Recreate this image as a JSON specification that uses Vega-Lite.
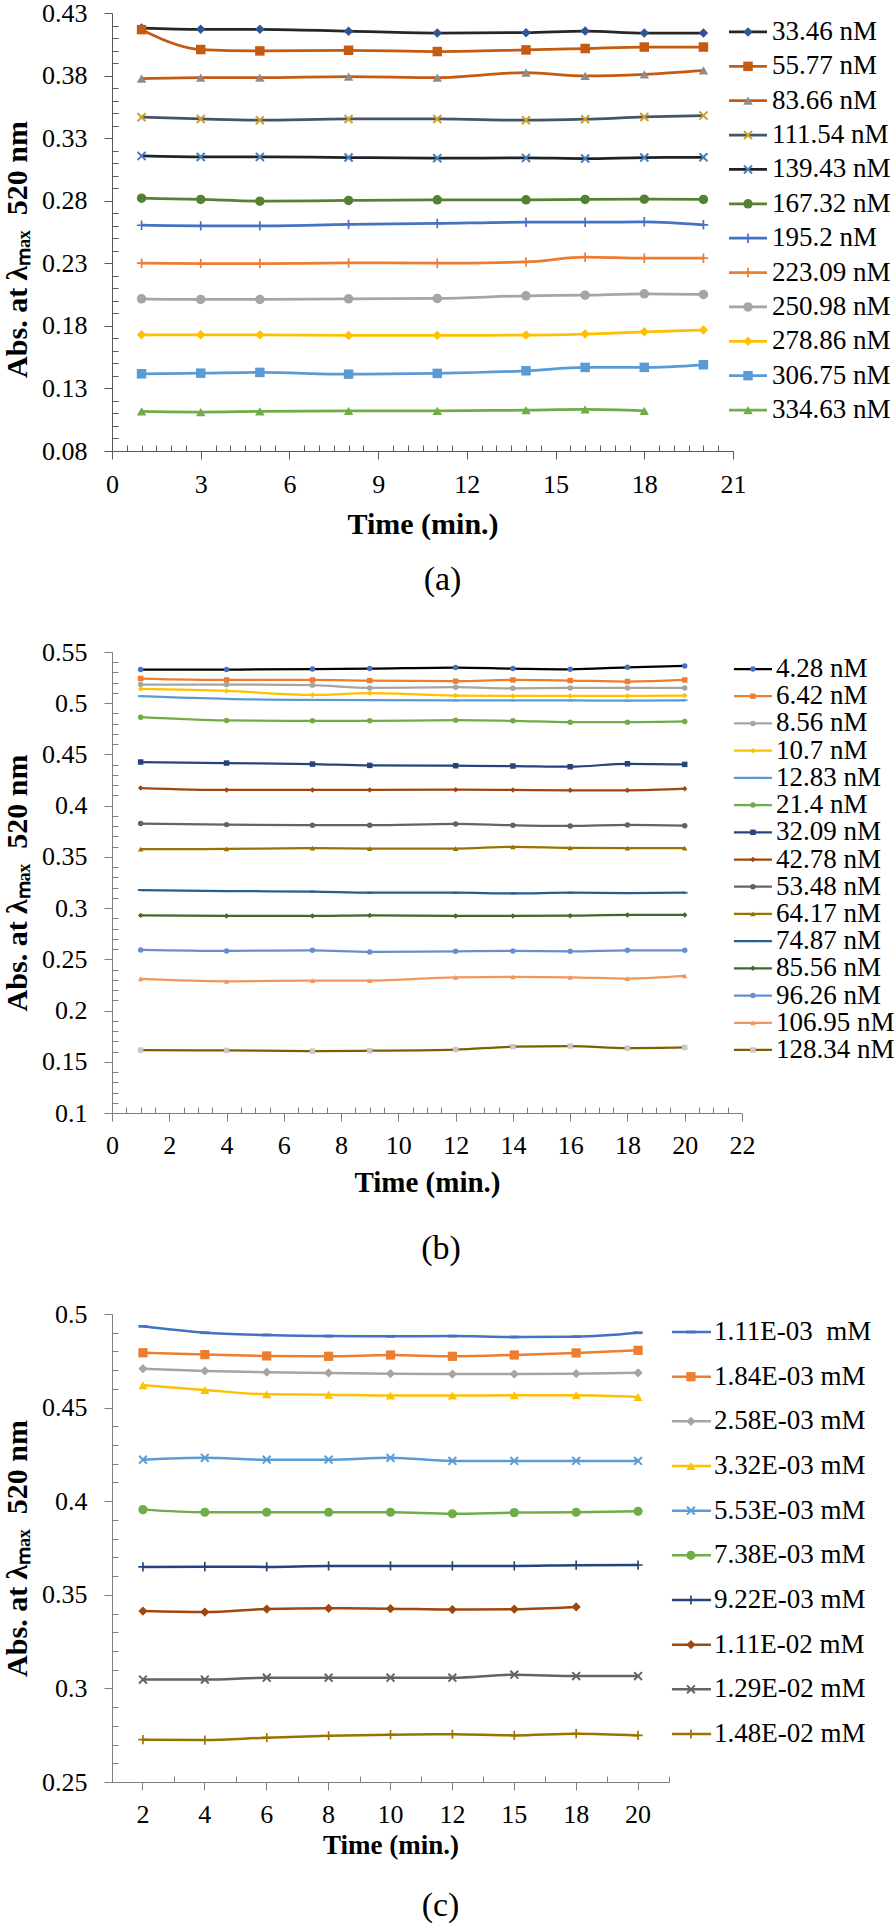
{
"$schema": "https://vega.github.io/schema/vega-lite/v6.json",
"background": "white",
"padding": {"left": 2, "top": 0, "right": 0, "bottom": 0},
"columns": 2,
"align": "each",
"bounds": "flush",
"spacing": {"row": 201, "column": 0},
"resolve": {"scale": {"stroke": "independent", "fill": "independent", "shape": "independent"}},
"config": {
  "view": {"stroke": null},
  "font": "Liberation Serif, Times New Roman, serif",
  "axis": {"labelFont": "Liberation Serif, Times New Roman, serif", "titleFont": "Liberation Serif, Times New Roman, serif", "labelColor": "black", "titleColor": "black", "grid": false, "domainColor": "#7f7f7f", "tickColor": "#7f7f7f", "labelFontSize": 26, "titleFontWeight": "bold", "labelOverlap": false},
  "title": {"font": "Liberation Serif, Times New Roman, serif", "fontWeight": "normal", "color": "black"}
},
"datasets": {
  "a": [
    {"s":"33.46 nM","t":[1,3,5,8,11,14,16,18,20],"v":[0.418,0.417,0.417,0.4155,0.414,0.4143,0.4156,0.414,0.414]},
    {"s":"55.77 nM","t":[1,3,5,8,11,14,16,18,20],"v":[0.4167,0.4008,0.3997,0.4002,0.3992,0.4005,0.4016,0.4028,0.4028]},
    {"s":"83.66 nM","t":[1,3,5,8,11,14,16,18,20],"v":[0.3776,0.3784,0.3784,0.3792,0.3784,0.3824,0.3797,0.381,0.3842]},
    {"s":"111.54 nM","t":[1,3,5,8,11,14,16,18,20],"v":[0.3467,0.3453,0.3443,0.3453,0.3453,0.3443,0.3451,0.3469,0.348]},
    {"s":"139.43 nM","t":[1,3,5,8,11,14,16,18,20],"v":[0.3158,0.315,0.315,0.3145,0.314,0.3142,0.3137,0.3145,0.3147]},
    {"s":"167.32 nM","t":[1,3,5,8,11,14,16,18,20],"v":[0.282,0.281,0.2796,0.2802,0.2807,0.2807,0.281,0.2812,0.281]},
    {"s":"195.2 nM","t":[1,3,5,8,11,14,16,18,20],"v":[0.2604,0.2599,0.2599,0.261,0.2618,0.2628,0.2628,0.2631,0.2607]},
    {"s":"223.09 nM","t":[1,3,5,8,11,14,16,18,20],"v":[0.2301,0.2298,0.2298,0.2303,0.2301,0.2311,0.2349,0.2341,0.2341]},
    {"s":"250.98 nM","t":[1,3,5,8,11,14,16,18,20],"v":[0.2016,0.2011,0.2011,0.2016,0.2019,0.204,0.2045,0.2056,0.2051]},
    {"s":"278.86 nM","t":[1,3,5,8,11,14,16,18,20],"v":[0.1728,0.1728,0.1728,0.1723,0.1724,0.1726,0.1734,0.1752,0.1766]},
    {"s":"306.75 nM","t":[1,3,5,8,11,14,16,18,20],"v":[0.1417,0.1422,0.1428,0.1414,0.142,0.1441,0.1468,0.1468,0.1489]},
    {"s":"334.63 nM","t":[1,3,5,8,11,14,16,18],"v":[0.1116,0.1111,0.1116,0.1121,0.1121,0.1127,0.1132,0.1121]}
  ],
  "b": [
    {"s":"4.28 nM","t":[1,4,7,9,12,14,16,18,20],"v":[0.5329,0.5329,0.5334,0.5338,0.5348,0.5338,0.5331,0.5351,0.5364]},
    {"s":"6.42 nM","t":[1,4,7,9,12,14,16,18,20],"v":[0.5241,0.5227,0.5227,0.5221,0.5215,0.5227,0.5221,0.5212,0.5227]},
    {"s":"8.56 nM","t":[1,4,7,9,12,14,16,18,20],"v":[0.5182,0.5182,0.5176,0.5149,0.5156,0.5146,0.5149,0.5149,0.5149]},
    {"s":"10.7 nM","t":[1,4,7,9,12,14,16,18,20],"v":[0.514,0.512,0.5081,0.5098,0.5075,0.5071,0.5071,0.5071,0.5075]},
    {"s":"12.83 nM","t":[1,4,7,9,12,14,16,18,20],"v":[0.5069,0.5042,0.5032,0.503,0.5027,0.5027,0.5027,0.5025,0.5029]},
    {"s":"21.4 nM","t":[1,4,7,9,12,14,16,18,20],"v":[0.4864,0.4832,0.4828,0.4828,0.4835,0.4828,0.4815,0.4815,0.4822]},
    {"s":"32.09 nM","t":[1,4,7,9,12,14,16,18,20],"v":[0.4426,0.4416,0.4406,0.4393,0.439,0.4387,0.438,0.4409,0.4403]},
    {"s":"42.78 nM","t":[1,4,7,9,12,14,16,18,20],"v":[0.4172,0.4153,0.4153,0.4153,0.4156,0.4153,0.415,0.415,0.4166]},
    {"s":"53.48 nM","t":[1,4,7,9,12,14,16,18,20],"v":[0.3825,0.3815,0.3809,0.3809,0.3822,0.3809,0.3802,0.3812,0.3805]},
    {"s":"64.17 nM","t":[1,4,7,9,12,14,16,18,20],"v":[0.3575,0.3578,0.3585,0.3581,0.3581,0.3598,0.3588,0.3585,0.3585]},
    {"s":"74.87 nM","t":[1,4,7,9,12,14,16,18,20],"v":[0.3176,0.3166,0.3162,0.315,0.315,0.3143,0.315,0.3147,0.315]},
    {"s":"85.56 nM","t":[1,4,7,9,12,14,16,18,20],"v":[0.2929,0.2923,0.2923,0.2929,0.2923,0.2923,0.2926,0.2933,0.2933]},
    {"s":"96.26 nM","t":[1,4,7,9,12,14,16,18,20],"v":[0.2592,0.2582,0.2588,0.2572,0.2578,0.2582,0.2578,0.2588,0.2588]},
    {"s":"106.95 nM","t":[1,4,7,9,12,14,16,18,20],"v":[0.2309,0.2286,0.2293,0.2293,0.2325,0.2328,0.2325,0.2312,0.2338]},
    {"s":"128.34 nM","t":[1,4,7,9,12,14,16,18,20],"v":[0.1614,0.1611,0.1604,0.1608,0.1619,0.1647,0.1653,0.1633,0.164]}
  ],
  "c": [
    {"s":"1.11E-03\u00a0 mM","t":[2,4,6,8,10,12,15,18,20],"v":[0.4934,0.49,0.4888,0.4882,0.4881,0.4882,0.4877,0.4879,0.49]},
    {"s":"1.84E-03 mM","t":[2,4,6,8,10,12,15,18,20],"v":[0.4793,0.4783,0.4776,0.4774,0.4781,0.4774,0.4781,0.4792,0.4806]},
    {"s":"2.58E-03 mM","t":[2,4,6,8,10,12,15,18,20],"v":[0.4708,0.4696,0.4689,0.4685,0.4681,0.4679,0.4679,0.4681,0.4686]},
    {"s":"3.32E-03 mM","t":[2,4,6,8,10,12,15,18,20],"v":[0.4619,0.4594,0.4571,0.4569,0.4564,0.4564,0.4566,0.4566,0.4557]},
    {"s":"5.53E-03 mM","t":[2,4,6,8,10,12,15,18,20],"v":[0.4222,0.4232,0.4222,0.4222,0.4232,0.4215,0.4215,0.4215,0.4215]},
    {"s":"7.38E-03 mM","t":[2,4,6,8,10,12,15,18,20],"v":[0.3955,0.3941,0.3941,0.3941,0.3941,0.3933,0.3939,0.3941,0.3946]},
    {"s":"9.22E-03 mM","t":[2,4,6,8,10,12,15,18,20],"v":[0.3649,0.365,0.3649,0.3654,0.3654,0.3654,0.3654,0.3658,0.3659]},
    {"s":"1.11E-02 mM","t":[2,4,6,8,10,12,15,18],"v":[0.3413,0.3408,0.3424,0.3428,0.3426,0.3421,0.3423,0.3435]},
    {"s":"1.29E-02 mM","t":[2,4,6,8,10,12,15,18,20],"v":[0.3047,0.3047,0.3057,0.3057,0.3057,0.3057,0.3073,0.3066,0.3066]},
    {"s":"1.48E-02 mM","t":[2,4,6,8,10,12,15,18,20],"v":[0.2726,0.2724,0.2737,0.2747,0.2753,0.2755,0.2749,0.2758,0.2749]}
  ]
},
"concat": [
  {
    "width": 621, "height": 438,
    "data": {"name": "a"},
    "transform": [{"flatten": ["t", "v"]}],
    "title": {"text": "(a)", "orient": "bottom", "offset": 24, "dx": 20, "fontSize": 34},
    "encoding": {
      "x": {"field": "t", "type": "quantitative", "scale": {"domain": [0, 21], "nice": false, "zero": false},
        "axis": {"title": "Time (min.)", "values": [0,0.5,1,1.5,2,2.5,3,3.5,4,4.5,5,5.5,6,6.5,7,7.5,8,8.5,9,9.5,10,10.5,11,11.5,12,12.5,13,13.5,14,14.5,15,15.5,16,16.5,17,17.5,18,18.5,19,19.5,20,20.5,21],
          "labelExpr": "datum.value % 3 === 0 ? '' + datum.value : ''",
          "tickSize": {"condition": {"test": "datum.value % 3 === 0", "value": 8}, "value": -6},
          "labelPadding": 12, "labelFlush": false, "titleFontSize": 30, "titlePadding": 12, "domainColor": "#595959", "tickColor": "#595959"}},
      "y": {"field": "v", "type": "quantitative", "scale": {"domain": [0.08, 0.43], "nice": false, "zero": false},
        "axis": {"title": "Abs. at λₘₐₓ\u00a0 520 nm", "values": [0.08,0.09,0.1,0.11,0.12,0.13,0.14,0.15,0.16,0.17,0.18,0.19,0.2,0.21,0.22,0.23,0.24,0.25,0.26,0.27,0.28,0.29,0.3,0.31,0.32,0.33,0.34,0.35,0.36,0.37,0.38,0.39,0.4,0.41,0.42,0.43],
          "labelExpr": "round(datum.value*100) % 5 === 3 ? format(datum.value, '.2f') : ''",
          "tickSize": {"condition": {"test": "round(datum.value*100) % 5 === 3", "value": 8}, "value": -6},
          "labelPadding": 17, "titleFontSize": 30, "titlePadding": 9, "titleY": 236, "domainColor": "#595959", "tickColor": "#595959"}}
    },
    "layer": [
      {"mark": {"type": "line", "interpolate": "monotone", "strokeWidth": 2.75},
       "encoding": {"stroke": {"field": "s", "type": "nominal", "legend": null,
         "scale": {"domain": ["33.46 nM","55.77 nM","83.66 nM","111.54 nM","139.43 nM","167.32 nM","195.2 nM","223.09 nM","250.98 nM","278.86 nM","306.75 nM","334.63 nM"],
                   "range": ["#262626","#c55a11","#c55a11","#44546a","#1f2328","#548235","#4472c4","#ed7d31","#a5a5a5","#ffc000","#5b9bd5","#70ad47"]}}}},
      {"mark": {"type": "point", "filled": true, "opacity": 1, "size": 90, "strokeWidth": 0},
       "encoding": {
         "fill": {"field": "s", "type": "nominal", "legend": null,
           "scale": {"domain": ["33.46 nM","55.77 nM","83.66 nM","111.54 nM","139.43 nM","167.32 nM","195.2 nM","223.09 nM","250.98 nM","278.86 nM","306.75 nM","334.63 nM"],
                     "range": ["#2f5597","#c55a11","#8c8c8c","#c9a227","#4a7ebb","#548235","#4472c4","#ed7d31","#a5a5a5","#ffc000","#5b9bd5","#70ad47"]}},
         "shape": {"field": "s", "type": "nominal", "legend": null,
           "scale": {"domain": ["33.46 nM","55.77 nM","83.66 nM","111.54 nM","139.43 nM","167.32 nM","195.2 nM","223.09 nM","250.98 nM","278.86 nM","306.75 nM","334.63 nM"],
                     "range": ["diamond","square","triangle-up","M0,-0.3L0.7,-1L1,-0.7L0.3,0L1,0.7L0.7,1L0,0.3L-0.7,1L-1,0.7L-0.3,0L-1,-0.7L-0.7,-1Z","M0,-0.3L0.7,-1L1,-0.7L0.3,0L1,0.7L0.7,1L0,0.3L-0.7,1L-1,0.7L-0.3,0L-1,-0.7L-0.7,-1Z","circle","M-1,-0.18H1V0.18H-1Z M-0.18,-1H0.18V1H-0.18Z","M-1,-0.18H1V0.18H-1Z M-0.18,-1H0.18V1H-0.18Z","circle","diamond","square","triangle-up"]}}}}
    ]
  },
  {
    "width": 152, "height": 416,
    "data": {"name": "a"},
    "encoding": {"y": {"field": "s", "type": "nominal", "axis": null,
      "scale": {"type": "point", "padding": 0.552, "domain": ["33.46 nM","55.77 nM","83.66 nM","111.54 nM","139.43 nM","167.32 nM","195.2 nM","223.09 nM","250.98 nM","278.86 nM","306.75 nM","334.63 nM"]}}},
    "layer": [
      {"mark": {"type": "rule", "strokeWidth": 2.75},
       "encoding": {"x": {"datum": -0.0855, "type": "quantitative", "scale": {"domain": [0, 1]}, "axis": null}, "x2": {"datum": 0.1645},
         "stroke": {"field": "s", "type": "nominal", "legend": null,
           "scale": {"domain": ["33.46 nM","55.77 nM","83.66 nM","111.54 nM","139.43 nM","167.32 nM","195.2 nM","223.09 nM","250.98 nM","278.86 nM","306.75 nM","334.63 nM"],
                     "range": ["#262626","#c55a11","#c55a11","#44546a","#1f2328","#548235","#4472c4","#ed7d31","#a5a5a5","#ffc000","#5b9bd5","#70ad47"]}}}},
      {"mark": {"type": "point", "filled": true, "opacity": 1, "size": 90, "strokeWidth": 0},
       "encoding": {"x": {"datum": 0.0395, "type": "quantitative"},
         "fill": {"field": "s", "type": "nominal", "legend": null,
           "scale": {"domain": ["33.46 nM","55.77 nM","83.66 nM","111.54 nM","139.43 nM","167.32 nM","195.2 nM","223.09 nM","250.98 nM","278.86 nM","306.75 nM","334.63 nM"],
                     "range": ["#2f5597","#c55a11","#8c8c8c","#c9a227","#4a7ebb","#548235","#4472c4","#ed7d31","#a5a5a5","#ffc000","#5b9bd5","#70ad47"]}},
         "shape": {"field": "s", "type": "nominal", "legend": null,
           "scale": {"domain": ["33.46 nM","55.77 nM","83.66 nM","111.54 nM","139.43 nM","167.32 nM","195.2 nM","223.09 nM","250.98 nM","278.86 nM","306.75 nM","334.63 nM"],
                     "range": ["diamond","square","triangle-up","M0,-0.3L0.7,-1L1,-0.7L0.3,0L1,0.7L0.7,1L0,0.3L-0.7,1L-1,0.7L-0.3,0L-1,-0.7L-0.7,-1Z","M0,-0.3L0.7,-1L1,-0.7L0.3,0L1,0.7L0.7,1L0,0.3L-0.7,1L-1,0.7L-0.3,0L-1,-0.7L-0.7,-1Z","circle","M-1,-0.18H1V0.18H-1Z M-0.18,-1H0.18V1H-0.18Z","M-1,-0.18H1V0.18H-1Z M-0.18,-1H0.18V1H-0.18Z","circle","diamond","square","triangle-up"]}}}},
      {"mark": {"type": "text", "align": "left", "baseline": "middle", "fontSize": 27, "font": "Liberation Serif, Times New Roman, serif", "color": "black"},
       "encoding": {"x": {"datum": 0.197, "type": "quantitative"}, "text": {"field": "s"}}}
    ]
  },
  {
    "width": 630, "height": 461,
    "data": {"name": "b"},
    "transform": [{"flatten": ["t", "v"]}],
    "title": {"text": "(b)", "orient": "bottom", "offset": 35, "dx": 14, "fontSize": 34},
    "encoding": {
      "x": {"field": "t", "type": "quantitative", "scale": {"domain": [0, 22], "nice": false, "zero": false},
        "axis": {"title": "Time (min.)", "values": [0,0.5,1,1.5,2,2.5,3,3.5,4,4.5,5,5.5,6,6.5,7,7.5,8,8.5,9,9.5,10,10.5,11,11.5,12,12.5,13,13.5,14,14.5,15,15.5,16,16.5,17,17.5,18,18.5,19,19.5,20,20.5,21,21.5,22],
          "labelExpr": "datum.value % 2 === 0 ? '' + datum.value : ''",
          "tickSize": {"condition": {"test": "datum.value % 2 === 0", "value": 8}, "value": -6},
          "labelPadding": 11, "labelFlush": false, "titleFontSize": 29, "titlePadding": 10}},
      "y": {"field": "v", "type": "quantitative", "scale": {"domain": [0.1, 0.55], "nice": false, "zero": false},
        "axis": {"title": "Abs. at λₘₐₓ\u00a0 520 nm", "values": [0.1,0.11,0.12,0.13,0.14,0.15,0.16,0.17,0.18,0.19,0.2,0.21,0.22,0.23,0.24,0.25,0.26,0.27,0.28,0.29,0.3,0.31,0.32,0.33,0.34,0.35,0.36,0.37,0.38,0.39,0.4,0.41,0.42,0.43,0.44,0.45,0.46,0.47,0.48,0.49,0.5,0.51,0.52,0.53,0.54,0.55],
          "labelExpr": "round(datum.value*100) % 5 === 0 ? format(datum.value, '.2~f') : ''",
          "tickSize": {"condition": {"test": "round(datum.value*100) % 5 === 0", "value": 8}, "value": -6},
          "labelPadding": 17, "titleFontSize": 30, "titlePadding": 9}}
    },
    "layer": [
      {"mark": {"type": "line", "interpolate": "monotone", "strokeWidth": 2.25},
       "encoding": {"stroke": {"field": "s", "type": "nominal", "legend": null,
         "scale": {"domain": ["4.28 nM","6.42 nM","8.56 nM","10.7 nM","12.83 nM","21.4 nM","32.09 nM","42.78 nM","53.48 nM","64.17 nM","74.87 nM","85.56 nM","96.26 nM","106.95 nM","128.34 nM"],
                   "range": ["#000000","#ed7d31","#a5a5a5","#ffc000","#5b9bd5","#70ad47","#264478","#9e480e","#636363","#997300","#255e91","#43682b","#698ed0","#f1975a","#7f6000"]}}}},
      {"mark": {"type": "point", "filled": true, "opacity": 1, "size": 30, "strokeWidth": 0},
       "encoding": {
         "fill": {"field": "s", "type": "nominal", "legend": null,
           "scale": {"domain": ["4.28 nM","6.42 nM","8.56 nM","10.7 nM","12.83 nM","21.4 nM","32.09 nM","42.78 nM","53.48 nM","64.17 nM","74.87 nM","85.56 nM","96.26 nM","106.95 nM","128.34 nM"],
                     "range": ["#4472c4","#ed7d31","#a5a5a5","#ffc000","#5b9bd5","#70ad47","#264478","#9e480e","#636363","#997300","#255e91","#43682b","#698ed0","#f1975a","#c8c8c8"]}},
         "shape": {"field": "s", "type": "nominal", "legend": null,
           "scale": {"domain": ["4.28 nM","6.42 nM","8.56 nM","10.7 nM","12.83 nM","21.4 nM","32.09 nM","42.78 nM","53.48 nM","64.17 nM","74.87 nM","85.56 nM","96.26 nM","106.95 nM","128.34 nM"],
                     "range": ["circle","square","circle","diamond","M-1,-0.35H1V0.35H-1Z","circle","square","diamond","circle","triangle-up","M-1,-0.35H1V0.35H-1Z","diamond","circle","triangle-up","square"]}}}}
    ]
  },
  {
    "width": 152, "height": 415,
    "data": {"name": "b"},
    "encoding": {"y": {"field": "s", "type": "nominal", "axis": null,
      "scale": {"type": "point", "padding": 0.625, "domain": ["4.28 nM","6.42 nM","8.56 nM","10.7 nM","12.83 nM","21.4 nM","32.09 nM","42.78 nM","53.48 nM","64.17 nM","74.87 nM","85.56 nM","96.26 nM","106.95 nM","128.34 nM"]}}},
    "layer": [
      {"mark": {"type": "rule", "strokeWidth": 2.25},
       "encoding": {"x": {"datum": -0.053, "type": "quantitative", "scale": {"domain": [0, 1]}, "axis": null}, "x2": {"datum": 0.197},
         "stroke": {"field": "s", "type": "nominal", "legend": null,
           "scale": {"domain": ["4.28 nM","6.42 nM","8.56 nM","10.7 nM","12.83 nM","21.4 nM","32.09 nM","42.78 nM","53.48 nM","64.17 nM","74.87 nM","85.56 nM","96.26 nM","106.95 nM","128.34 nM"],
                     "range": ["#000000","#ed7d31","#a5a5a5","#ffc000","#5b9bd5","#70ad47","#264478","#9e480e","#636363","#997300","#255e91","#43682b","#698ed0","#f1975a","#7f6000"]}}}},
      {"mark": {"type": "point", "filled": true, "opacity": 1, "size": 30, "strokeWidth": 0},
       "encoding": {"x": {"datum": 0.072, "type": "quantitative"},
         "fill": {"field": "s", "type": "nominal", "legend": null,
           "scale": {"domain": ["4.28 nM","6.42 nM","8.56 nM","10.7 nM","12.83 nM","21.4 nM","32.09 nM","42.78 nM","53.48 nM","64.17 nM","74.87 nM","85.56 nM","96.26 nM","106.95 nM","128.34 nM"],
                     "range": ["#4472c4","#ed7d31","#a5a5a5","#ffc000","#5b9bd5","#70ad47","#264478","#9e480e","#636363","#997300","#255e91","#43682b","#698ed0","#f1975a","#c8c8c8"]}},
         "shape": {"field": "s", "type": "nominal", "legend": null,
           "scale": {"domain": ["4.28 nM","6.42 nM","8.56 nM","10.7 nM","12.83 nM","21.4 nM","32.09 nM","42.78 nM","53.48 nM","64.17 nM","74.87 nM","85.56 nM","96.26 nM","106.95 nM","128.34 nM"],
                     "range": ["circle","square","circle","diamond","M-1,-0.35H1V0.35H-1Z","circle","square","diamond","circle","triangle-up","M-1,-0.35H1V0.35H-1Z","diamond","circle","triangle-up","square"]}}}},
      {"mark": {"type": "text", "align": "left", "baseline": "middle", "fontSize": 27, "font": "Liberation Serif, Times New Roman, serif", "color": "black"},
       "encoding": {"x": {"datum": 0.224, "type": "quantitative"}, "text": {"field": "s"}}}
    ]
  },
  {
    "width": 557, "height": 468,
    "data": {"name": "c"},
    "transform": [{"flatten": ["t", "v"]}],
    "title": {"text": "(c)", "orient": "bottom", "offset": 31, "dx": 50, "fontSize": 34},
    "encoding": {
      "x": {"field": "t", "type": "ordinal", "sort": "ascending", "bandPosition": 0.5, "scale": {"type": "band", "paddingInner": 0, "paddingOuter": 0},
        "axis": {"orient": "bottom", "title": "Time (min.)", "labelAngle": 0, "tickSize": 8, "labelPadding": 11, "titleFontSize": 27, "titlePadding": 5}},
      "y": {"field": "v", "type": "quantitative", "scale": {"domain": [0.25, 0.5], "nice": false, "zero": false},
        "axis": {"title": "Abs. at λₘₐₓ\u00a0 520 nm", "values": [0.25,0.26,0.27,0.28,0.29,0.3,0.31,0.32,0.33,0.34,0.35,0.36,0.37,0.38,0.39,0.4,0.41,0.42,0.43,0.44,0.45,0.46,0.47,0.48,0.49,0.5],
          "labelExpr": "round(datum.value*100) % 5 === 0 ? format(datum.value, '.2~f') : ''",
          "tickSize": {"condition": {"test": "round(datum.value*100) % 5 === 0", "value": 8}, "value": -6},
          "labelPadding": 17, "titleFontSize": 30, "titlePadding": 9}}
    },
    "resolve": {"axis": {"x": "independent"}},
    "layer": [
      {"mark": {"type": "line", "interpolate": "monotone", "strokeWidth": 2.5},
       "encoding": {
         "x": {"field": "t", "type": "ordinal", "sort": "ascending", "bandPosition": 0.5,
           "axis": {"orient": "bottom", "tickBand": "extent", "labels": false, "title": null, "domain": false, "tickSize": -6}},
         "stroke": {"field": "s", "type": "nominal", "legend": null,
         "scale": {"domain": ["1.11E-03\u00a0 mM","1.84E-03 mM","2.58E-03 mM","3.32E-03 mM","5.53E-03 mM","7.38E-03 mM","9.22E-03 mM","1.11E-02 mM","1.29E-02 mM","1.48E-02 mM"],
                   "range": ["#4472c4","#ed7d31","#a5a5a5","#ffc000","#5b9bd5","#70ad47","#264478","#9e480e","#636363","#997300"]}}}},
      {"mark": {"type": "point", "filled": true, "opacity": 1, "size": 85, "strokeWidth": 0},
       "encoding": {
         "fill": {"field": "s", "type": "nominal", "legend": null,
           "scale": {"domain": ["1.11E-03\u00a0 mM","1.84E-03 mM","2.58E-03 mM","3.32E-03 mM","5.53E-03 mM","7.38E-03 mM","9.22E-03 mM","1.11E-02 mM","1.29E-02 mM","1.48E-02 mM"],
                     "range": ["#4472c4","#ed7d31","#a5a5a5","#ffc000","#5b9bd5","#70ad47","#264478","#9e480e","#636363","#997300"]}},
         "shape": {"field": "s", "type": "nominal", "legend": null,
           "scale": {"domain": ["1.11E-03\u00a0 mM","1.84E-03 mM","2.58E-03 mM","3.32E-03 mM","5.53E-03 mM","7.38E-03 mM","9.22E-03 mM","1.11E-02 mM","1.29E-02 mM","1.48E-02 mM"],
                     "range": ["M-1,-0.3H1V0.3H-1Z","square","diamond","triangle-up","M0,-0.3L0.7,-1L1,-0.7L0.3,0L1,0.7L0.7,1L0,0.3L-0.7,1L-1,0.7L-0.3,0L-1,-0.7L-0.7,-1Z","circle","M-1,-0.18H1V0.18H-1Z M-0.18,-1H0.18V1H-0.18Z","diamond","M0,-0.3L0.7,-1L1,-0.7L0.3,0L1,0.7L0.7,1L0,0.3L-0.7,1L-1,0.7L-0.3,0L-1,-0.7L-0.7,-1Z","M-1,-0.18H1V0.18H-1Z M-0.18,-1H0.18V1H-0.18Z"]}}}}
    ]
  },
  {
    "width": 152, "height": 438,
    "data": {"name": "c"},
    "encoding": {"y": {"field": "s", "type": "nominal", "axis": null,
      "scale": {"type": "point", "padding": 0.403, "domain": ["1.11E-03\u00a0 mM","1.84E-03 mM","2.58E-03 mM","3.32E-03 mM","5.53E-03 mM","7.38E-03 mM","9.22E-03 mM","1.11E-02 mM","1.29E-02 mM","1.48E-02 mM"]}}},
    "layer": [
      {"mark": {"type": "rule", "strokeWidth": 2.5},
       "encoding": {"x": {"datum": -0.461, "type": "quantitative", "scale": {"domain": [0, 1]}, "axis": null}, "x2": {"datum": -0.204},
         "stroke": {"field": "s", "type": "nominal", "legend": null,
           "scale": {"domain": ["1.11E-03\u00a0 mM","1.84E-03 mM","2.58E-03 mM","3.32E-03 mM","5.53E-03 mM","7.38E-03 mM","9.22E-03 mM","1.11E-02 mM","1.29E-02 mM","1.48E-02 mM"],
                     "range": ["#4472c4","#ed7d31","#a5a5a5","#ffc000","#5b9bd5","#70ad47","#264478","#9e480e","#636363","#997300"]}}}},
      {"mark": {"type": "point", "filled": true, "opacity": 1, "size": 85, "strokeWidth": 0},
       "encoding": {"x": {"datum": -0.336, "type": "quantitative"},
         "fill": {"field": "s", "type": "nominal", "legend": null,
           "scale": {"domain": ["1.11E-03\u00a0 mM","1.84E-03 mM","2.58E-03 mM","3.32E-03 mM","5.53E-03 mM","7.38E-03 mM","9.22E-03 mM","1.11E-02 mM","1.29E-02 mM","1.48E-02 mM"],
                     "range": ["#4472c4","#ed7d31","#a5a5a5","#ffc000","#5b9bd5","#70ad47","#264478","#9e480e","#636363","#997300"]}},
         "shape": {"field": "s", "type": "nominal", "legend": null,
           "scale": {"domain": ["1.11E-03\u00a0 mM","1.84E-03 mM","2.58E-03 mM","3.32E-03 mM","5.53E-03 mM","7.38E-03 mM","9.22E-03 mM","1.11E-02 mM","1.29E-02 mM","1.48E-02 mM"],
                     "range": ["M-1,-0.3H1V0.3H-1Z","square","diamond","triangle-up","M0,-0.3L0.7,-1L1,-0.7L0.3,0L1,0.7L0.7,1L0,0.3L-0.7,1L-1,0.7L-0.3,0L-1,-0.7L-0.7,-1Z","circle","M-1,-0.18H1V0.18H-1Z M-0.18,-1H0.18V1H-0.18Z","diamond","M0,-0.3L0.7,-1L1,-0.7L0.3,0L1,0.7L0.7,1L0,0.3L-0.7,1L-1,0.7L-0.3,0L-1,-0.7L-0.7,-1Z","M-1,-0.18H1V0.18H-1Z M-0.18,-1H0.18V1H-0.18Z"]}}}},
      {"mark": {"type": "text", "align": "left", "baseline": "middle", "fontSize": 27, "font": "Liberation Serif, Times New Roman, serif", "color": "black"},
       "encoding": {"x": {"datum": -0.184, "type": "quantitative"}, "text": {"field": "s"}}}
    ]
  }
]
}
